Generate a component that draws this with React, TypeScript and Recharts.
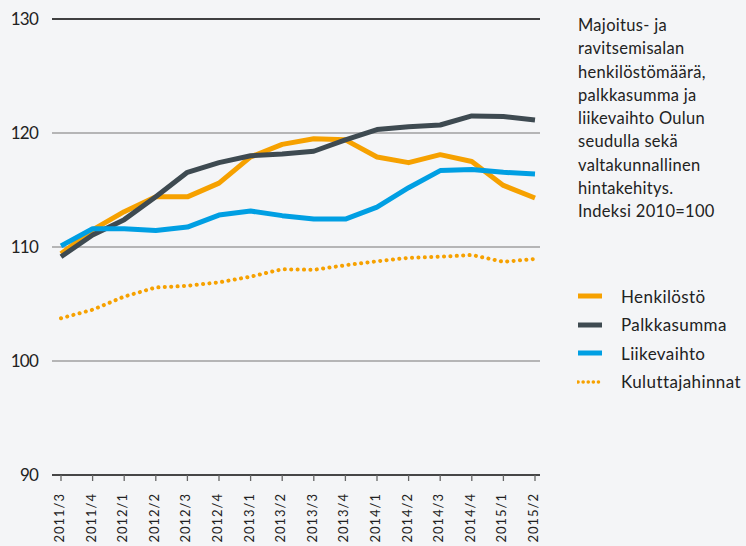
import React from "react";
import { LineChart, Line, XAxis, YAxis, CartesianGrid, ReferenceLine } from "recharts";

const quarters = [
  "2011/3", "2011/4", "2012/1", "2012/2", "2012/3", "2012/4", "2013/1", "2013/2",
  "2013/3", "2013/4", "2014/1", "2014/2", "2014/3", "2014/4", "2015/1", "2015/2",
];
const henkilosto = [109.4, 111.5, 113.1, 114.4, 114.4, 115.6, 117.9, 119.0, 119.5, 119.4, 117.9, 117.4, 118.1, 117.5, 115.4, 114.3];
const palkkasumma = [109.15, 111.05, 112.4, 114.4, 116.55, 117.4, 118.0, 118.15, 118.4, 119.4, 120.3, 120.55, 120.7, 121.5, 121.45, 121.15];
const liikevaihto = [110.1, 111.6, 111.6, 111.45, 111.75, 112.8, 113.15, 112.75, 112.45, 112.45, 113.5, 115.2, 116.7, 116.8, 116.55, 116.4];
const kuluttajahinnat = [103.75, 104.5, 105.65, 106.45, 106.6, 106.9, 107.4, 108.05, 108.0, 108.4, 108.75, 109.05, 109.15, 109.3, 108.7, 108.95];
const yTicks = [90, 100, 110, 120, 130];

const titleLines = [
  "Majoitus- ja",
  "ravitsemisalan",
  "henkilöstömäärä,",
  "palkkasumma ja",
  "liikevaihto Oulun",
  "seudulla sekä",
  "valtakunnallinen",
  "hintakehitys.",
  "Indeksi 2010=100",
];

const ORANGE = "#f6a100";
const DARK = "#3e4a51";
const BLUE = "#009fe3";
const FONT = "Lato, 'Open Sans', sans-serif";

const data = quarters.map((q, i) => ({
  name: q,
  Henkilöstö: henkilosto[i],
  Palkkasumma: palkkasumma[i],
  Liikevaihto: liikevaihto[i],
  Kuluttajahinnat: kuluttajahinnat[i],
}));

const series = [
  { key: "Henkilöstö", color: ORANGE, dotted: false },
  { key: "Palkkasumma", color: DARK, dotted: false },
  { key: "Liikevaihto", color: BLUE, dotted: false },
  { key: "Kuluttajahinnat", color: ORANGE, dotted: true },
];

const XTick = ({ x, y, payload }: any) => (
  <g transform={`translate(${x},${y})`}>
    <text
      transform="rotate(-90)"
      x={-10}
      y={0}
      dy={3}
      textAnchor="end"
      fill="#222"
      fontSize={13}
      letterSpacing={1}
      fontFamily={FONT}
    >
      {payload.value}
    </text>
  </g>
);

const LegendBox = () => (
  <div style={{ position: "absolute", left: 577, top: 282, fontFamily: FONT }}>
    {series.map((s) => (
      <div key={s.key} style={{ display: "flex", alignItems: "center", height: 28.5 }}>
        <svg width={26} height={8} style={{ marginRight: 18 }}>
          <line
            x1={1}
            y1={4}
            x2={25}
            y2={4}
            stroke={s.color}
            strokeWidth={s.dotted ? 3.5 : 5}
            strokeDasharray={s.dotted ? "0.1 5" : undefined}
            strokeLinecap={s.dotted ? "round" : "butt"}
          />
        </svg>
        <span style={{ fontSize: 17, letterSpacing: 0.4, color: "#222" }}>{s.key}</span>
      </div>
    ))}
  </div>
);

export default function App() {
  return (
    <div style={{ position: "relative", width: 746, height: 546, background: "#f4f5f7", overflow: "hidden" }}>
      <style>{`body{margin:0}`}</style>
      <div
        style={{
          position: "absolute",
          left: 578,
          top: 14,
          fontFamily: FONT,
          fontSize: 16.5,
          lineHeight: "23.3px",
          letterSpacing: 0.3,
          color: "#222",
        }}
      >
        {titleLines.map((t) => (
          <div key={t}>{t}</div>
        ))}
      </div>
      <LegendBox />
      <LineChart width={746} height={546} data={data} margin={{ top: 19, right: 206, bottom: 0, left: 0 }}>
        <CartesianGrid vertical={false} stroke="#777" strokeWidth={1.2} />
        <ReferenceLine y={130} stroke="#1a1a1a" strokeWidth={1.3} />
        <XAxis
          dataKey="name"
          padding={{ left: 9, right: 5 }}
          axisLine={{ stroke: "#222", strokeWidth: 1.3 }}
          tickLine={{ stroke: "#666", strokeWidth: 1.3 }}
          tickSize={6}
          interval={0}
          tick={<XTick />}
          height={71}
        />
        <YAxis
          domain={[90, 130]}
          ticks={yTicks}
          width={52}
          axisLine={false}
          tickLine={false}
          tickSize={0}
          tickMargin={14}
          tick={{ fill: "#222", fontSize: 17, fontFamily: FONT, letterSpacing: -0.8 }}
        />
        {series.map((s) => (
          <Line
            key={s.key}
            dataKey={s.key}
            type="linear"
            stroke={s.color}
            strokeWidth={s.dotted ? 4 : 5}
            strokeDasharray={s.dotted ? "0.1 6.3" : undefined}
            strokeLinecap={s.dotted ? "round" : "butt"}
            strokeLinejoin="round"
            dot={false}
            activeDot={false}
            isAnimationActive={false}
          />
        ))}
      </LineChart>
    </div>
  );
}
